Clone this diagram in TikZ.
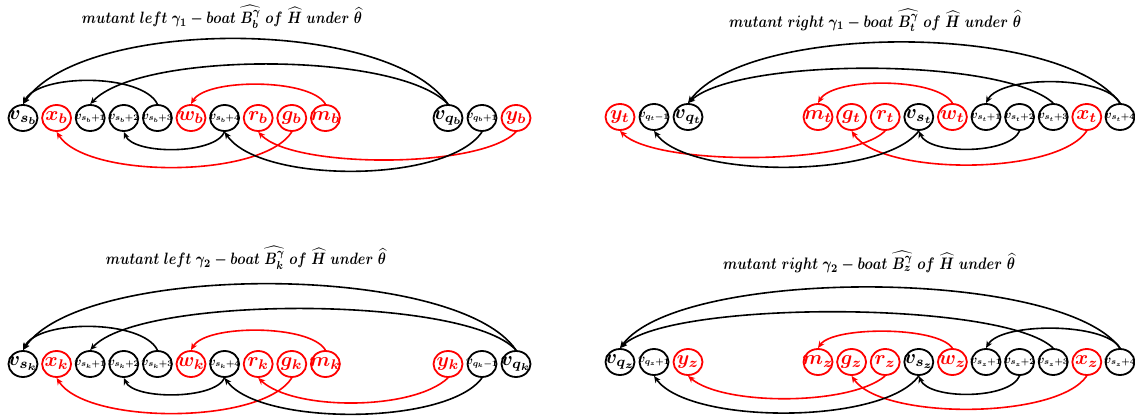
\documentclass[tikz,border=0pt]{standalone}
\usepackage{amsmath}
\usepackage{amssymb}
\usepackage{graphicx}
\usepackage{tikz}
\usetikzlibrary{shapes, arrows.meta}

% labels of fixed width, so that the ellipse keeps its size
\newcommand{\nlab}[1]{\makebox[0pt]{$#1$}}
\newcommand{\slab}[1]{\makebox[0pt]{\scalebox{0.6}{$#1$}}}
% title of a given width, a little taller than set
\newcommand{\tlab}[2]{\scalebox{1}[1.2]{\resizebox{#1}{!}{\boldmath$#2$}}}

\begin{document}
\begin{tikzpicture}[x=0.5pt, y=-0.5pt,
  vtx/.style={ellipse, draw, line width=0.9pt, minimum width=14.5pt, minimum height=13pt, inner sep=0pt, font=\boldmath\fontsize{10}{10}\selectfont},
  rvtx/.style={vtx, draw=red, text=red},
  barc/.style={line width=0.8pt, -{Stealth[length=3.5pt, width=3pt]}},
  rarc/.style={barc, red},
  headline/.style={font=\boldmath\fontsize{10}{12}\selectfont}]

\useasboundingbox (0,0) rectangle (1135,416);

% Titles
\node[headline] (t1) at (222,17) {\tlab{140pt}{mutant\ left\ \gamma_1 - boat\ \widehat{B^{\gamma}_{b}}\ of\ \widehat{H}\ under\ \widehat{\theta}}};
\node[headline] (t2) at (875,20) {\tlab{146pt}{mutant\ right\ \gamma_1 - boat\ \widehat{B^{\gamma}_{t}}\ of\ \widehat{H}\ under\ \widehat{\theta}}};
\node[headline] (t3) at (246,258) {\tlab{140pt}{mutant\ left\ \gamma_2 - boat\ \widehat{B^{\gamma}_{k}}\ of\ \widehat{H}\ under\ \widehat{\theta}}};
\node[headline] (t4) at (869,262) {\tlab{146pt}{mutant\ right\ \gamma_2 - boat\ \widehat{B^{\gamma}_{z}}\ of\ \widehat{H}\ under\ \widehat{\theta}}};

% Mutant left gamma_1 boat
\node[vtx] (sb) at (23,118) {\nlab{v_{s_b}}};
\node[rvtx] (xb) at (56.6,118) {\nlab{x_b}};
\node[vtx] (sb1) at (90.2,118) {\slab{v_{s_b+1}}};
\node[vtx] (sb2) at (123.8,118) {\slab{v_{s_b+2}}};
\node[vtx] (sb3) at (157.4,118) {\slab{v_{s_b+3}}};
\node[rvtx] (wb) at (191,118) {\nlab{w_b}};
\node[vtx] (sb4) at (224.6,118) {\slab{v_{s_b+4}}};
\node[rvtx] (rb) at (258.2,118) {\nlab{r_b}};
\node[rvtx] (gb) at (291.8,118) {\nlab{g_b}};
\node[rvtx] (mb) at (325.4,118) {\nlab{m_b}};
\node[vtx] (qb) at (448,118) {\nlab{v_{q_b}}};
\node[vtx] (qb1) at (482,118) {\slab{v_{q_b+1}}};
\node[rvtx] (yb) at (516,118) {\nlab{y_b}};

\draw[barc] (qb.north) .. controls +(-60,-87) and +(60,-87) .. (sb.north);
\draw[barc] (qb.north) .. controls +(-50,-53) and +(50,-53) .. (sb1.north);
\draw[barc] (sb3.north) .. controls +(-15,-31) and +(15,-31) .. (sb.north);
\draw[rarc] (mb.north) .. controls +(-15,-26) and +(15,-26) .. (wb.north);
\draw[rarc] (gb.south) .. controls +(-30,47) and +(30,47) .. (xb.south);
\draw[barc] (sb4.south) .. controls +(-10,23) and +(10,23) .. (sb2.south);
\draw[rarc] (yb.south) .. controls +(-35,37) and +(35,37) .. (rb.south);
\draw[barc] (qb1.south) .. controls +(-35,52) and +(35,52) .. (sb4.south);

% Mutant right gamma_1 boat
\node[rvtx] (yt) at (620,117) {\nlab{y_t}};
\node[vtx] (qt1) at (654,117) {\slab{v_{q_t-1}}};
\node[vtx] (qt) at (688,117) {\nlab{v_{q_t}}};
\node[rvtx] (mt) at (818,117) {\nlab{m_t}};
\node[rvtx] (gt) at (851.6,117) {\nlab{g_t}};
\node[rvtx] (rt) at (885.2,117) {\nlab{r_t}};
\node[vtx] (st) at (918.8,117) {\nlab{v_{s_t}}};
\node[rvtx] (wt) at (952.4,117) {\nlab{w_t}};
\node[vtx] (st1) at (986,117) {\slab{v_{s_t+1}}};
\node[vtx] (st2) at (1019.6,117) {\slab{v_{s_t+2}}};
\node[vtx] (st3) at (1053.2,117) {\slab{v_{s_t+3}}};
\node[rvtx] (xt) at (1086.8,117) {\nlab{x_t}};
\node[vtx] (st4) at (1120,117) {\slab{v_{s_t+4}}};

\draw[barc] (st4.north) .. controls +(-60,-81) and +(60,-81) .. (qt.north);
\draw[barc] (st3.north) .. controls +(-50,-46) and +(50,-46) .. (qt.north);
\draw[barc] (st4.north) .. controls +(-15,-28) and +(15,-28) .. (st1.north);
\draw[rarc] (wt.north) .. controls +(-15,-26) and +(15,-26) .. (mt.north);
\draw[rarc] (xt.south) .. controls +(-30,45) and +(30,45) .. (gt.south);
\draw[barc] (st2.south) .. controls +(-10,24) and +(10,24) .. (st.south);
\draw[rarc] (rt.south) .. controls +(-35,35) and +(35,35) .. (yt.south);
\draw[barc] (st.south) .. controls +(-35,48) and +(35,48) .. (qt1.south);

% Mutant left gamma_2 boat
\node[vtx] (sk) at (23,364) {\nlab{v_{s_k}}};
\node[rvtx] (xk) at (56.6,364) {\nlab{x_k}};
\node[vtx] (sk1) at (90.2,364) {\slab{v_{s_k+1}}};
\node[vtx] (sk2) at (123.8,364) {\slab{v_{s_k+2}}};
\node[vtx] (sk3) at (157.4,364) {\slab{v_{s_k+3}}};
\node[rvtx] (wk) at (191,364) {\nlab{w_k}};
\node[vtx] (sk4) at (224.6,364) {\slab{v_{s_k+4}}};
\node[rvtx] (rk) at (258.2,364) {\nlab{r_k}};
\node[rvtx] (gk) at (291.8,364) {\nlab{g_k}};
\node[rvtx] (mk) at (325.4,364) {\nlab{m_k}};
\node[rvtx] (yk) at (448,364) {\nlab{y_k}};
\node[vtx] (qk1) at (482,364) {\slab{v_{q_k-1}}};
\node[vtx] (qk) at (516,364) {\nlab{v_{q_k}}};

\draw[barc] (qk.north) .. controls +(-60,-88) and +(60,-88) .. (sk.north);
\draw[barc] (qk.north) .. controls +(-50,-55) and +(50,-55) .. (sk1.north);
\draw[barc] (sk3.north) .. controls +(-15,-31) and +(15,-31) .. (sk.north);
\draw[rarc] (mk.north) .. controls +(-15,-26) and +(15,-26) .. (wk.north);
\draw[rarc] (gk.south) .. controls +(-30,47) and +(30,47) .. (xk.south);
\draw[barc] (sk4.south) .. controls +(-10,22) and +(10,22) .. (sk2.south);
\draw[rarc] (yk.south) .. controls +(-35,33) and +(35,33) .. (rk.south);
\draw[barc] (qk1.south) .. controls +(-35,48) and +(35,48) .. (sk4.south);

% Mutant right gamma_2 boat
\node[vtx] (qz) at (620,362) {\nlab{v_{q_z}}};
\node[vtx] (qz1) at (654,362) {\slab{v_{q_z+1}}};
\node[rvtx] (yz) at (688,362) {\nlab{y_z}};
\node[rvtx] (mz) at (818,362) {\nlab{m_z}};
\node[rvtx] (gz) at (851.6,362) {\nlab{g_z}};
\node[rvtx] (rz) at (885.2,362) {\nlab{r_z}};
\node[vtx] (sz) at (918.8,362) {\nlab{v_{s_z}}};
\node[rvtx] (wz) at (952.4,362) {\nlab{w_z}};
\node[vtx] (sz1) at (986,362) {\slab{v_{s_z+1}}};
\node[vtx] (sz2) at (1019.6,362) {\slab{v_{s_z+2}}};
\node[vtx] (sz3) at (1053.2,362) {\slab{v_{s_z+3}}};
\node[rvtx] (xz) at (1086.8,362) {\nlab{x_z}};
\node[vtx] (sz4) at (1120,362) {\slab{v_{s_z+4}}};

\draw[barc] (sz4.north) .. controls +(-60,-81) and +(60,-81) .. (qz.north);
\draw[barc] (sz3.north) .. controls +(-50,-48) and +(50,-48) .. (qz.north);
\draw[barc] (sz4.north) .. controls +(-15,-26) and +(15,-26) .. (sz1.north);
\draw[rarc] (wz.north) .. controls +(-15,-22) and +(15,-22) .. (mz.north);
\draw[rarc] (xz.south) .. controls +(-30,44) and +(30,44) .. (gz.south);
\draw[barc] (sz2.south) .. controls +(-10,24) and +(10,24) .. (sz.south);
\draw[rarc] (rz.south) .. controls +(-35,30) and +(35,30) .. (yz.south);
\draw[barc] (sz.south) .. controls +(-35,49) and +(35,49) .. (qz1.south);

\end{tikzpicture}
\end{document}
